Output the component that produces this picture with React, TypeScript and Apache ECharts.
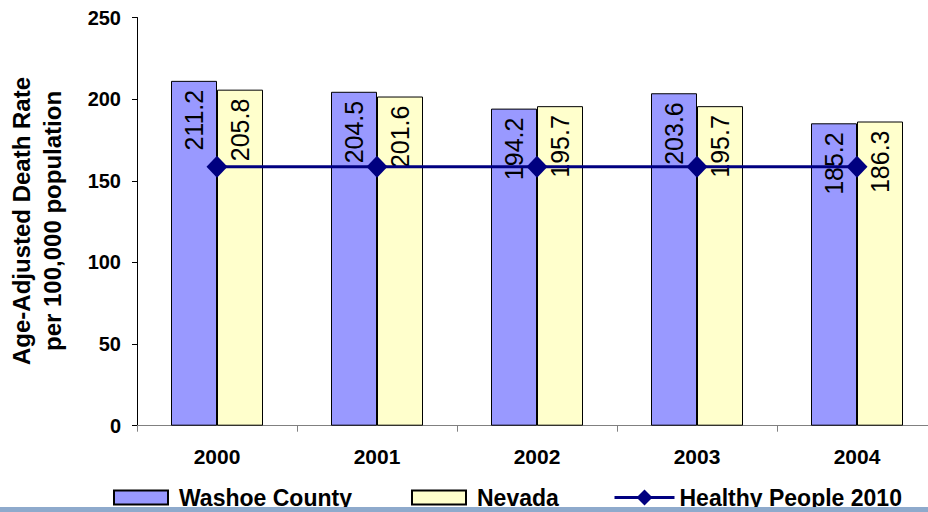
import React, { useEffect, useRef } from "react";
import * as echarts from "echarts";

const categories = ["2000", "2001", "2002", "2003", "2004"];
const washoeCounty = [211.2, 204.5, 194.2, 203.6, 185.2];
const nevada = [205.8, 201.6, 195.7, 195.7, 186.3];
const healthyPeople2010 = [158.6, 158.6, 158.6, 158.6, 158.6];
const yTicks = { min: 0, max: 250, interval: 50 };

export default function App() {
  const ref = useRef<HTMLDivElement>(null);
  useEffect(() => {
    if (!ref.current) return;
    const chart = echarts.init(ref.current, null, { renderer: "svg" });
    const font = "'Liberation Sans', Arial, sans-serif";
    const barLabel = {
      show: true,
      position: "insideTop",
      rotate: 90,
      align: "right",
      verticalAlign: "middle",
      distance: 9,
      fontSize: 25,
      color: "#000",
      fontFamily: font,
      formatter: (p: any) => p.value.toFixed(1),
    };
    const legendText = { fontSize: 23, fontWeight: "bold", color: "#000", fontFamily: font };
    chart.setOption({
      animation: false,
      backgroundColor: "#ffffff",
      textStyle: { fontFamily: font },
      grid: { left: 137, top: 17.5, width: 800, height: 408.2, containLabel: false },
      xAxis: {
        type: "category",
        data: categories,
        axisLine: { lineStyle: { color: "#808080", width: 1 } },
        axisTick: { show: true, length: 6, lineStyle: { color: "#808080" } },
        axisLabel: { color: "#000", fontSize: 21, fontWeight: "bold", margin: 20, fontFamily: font },
      },
      yAxis: {
        type: "value",
        min: yTicks.min,
        max: yTicks.max,
        interval: yTicks.interval,
        splitLine: { show: false },
        axisLine: { show: true, lineStyle: { color: "#000", width: 1 } },
        axisTick: { show: true, length: 5, lineStyle: { color: "#000" } },
        axisLabel: { color: "#000", fontSize: 20, fontWeight: "bold", margin: 16, fontFamily: font },
      },
      legend: [
        {
          data: [{ name: "Washoe County", icon: "rect" }],
          left: 113,
          top: 486,
          padding: 0,
          itemWidth: 54,
          itemHeight: 14,
          textStyle: { ...legendText, padding: [0, 0, 0, 6] },
        },
        {
          data: [{ name: "Nevada", icon: "rect" }],
          left: 411,
          top: 486,
          padding: 0,
          itemWidth: 54,
          itemHeight: 14,
          textStyle: { ...legendText, padding: [0, 0, 0, 6] },
        },
        {
          data: ["Healthy People 2010"],
          left: 613,
          top: 486,
          padding: 0,
          itemWidth: 60,
          itemHeight: 20,
          lineStyle: { width: 3 },
          textStyle: { ...legendText },
        },
      ],
      series: [
        {
          name: "Washoe County",
          type: "bar",
          data: washoeCounty,
          barGap: "0%",
          barCategoryGap: "42.5%",
          itemStyle: { color: "#9999FF", borderColor: "#000", borderWidth: 1 },
          label: barLabel,
        },
        {
          name: "Nevada",
          type: "bar",
          data: nevada,
          itemStyle: { color: "#FFFFCC", borderColor: "#000", borderWidth: 1 },
          label: barLabel,
        },
        {
          name: "Healthy People 2010",
          type: "line",
          data: healthyPeople2010,
          symbol: "diamond",
          symbolSize: [21, 22],
          lineStyle: { color: "#000080", width: 3 },
          itemStyle: { color: "#000080" },
          z: 5,
        },
      ],
      graphic: [
        {
          type: "text",
          x: 37,
          y: 221,
          rotation: Math.PI / 2,
          style: {
            text: "Age-Adjusted Death Rate\nper 100,000 population",
            font: "bold 24px 'Liberation Sans', Arial, sans-serif",
            fill: "#000",
            textAlign: "center",
            textVerticalAlign: "middle",
            lineHeight: 31,
          },
        },
        {
          type: "rect",
          shape: { x: 0, y: 507, width: 960, height: 5 },
          style: { fill: "#8EAACC" },
          z: 100,
        },
      ],
    });
    return () => chart.dispose();
  }, []);
  return (
    <div
      style={{ position: "absolute", left: 0, top: 0, width: 928, height: 512, overflow: "hidden" }}
    >
      <div ref={ref} style={{ width: 960, height: 512 }} />
    </div>
  );
}
